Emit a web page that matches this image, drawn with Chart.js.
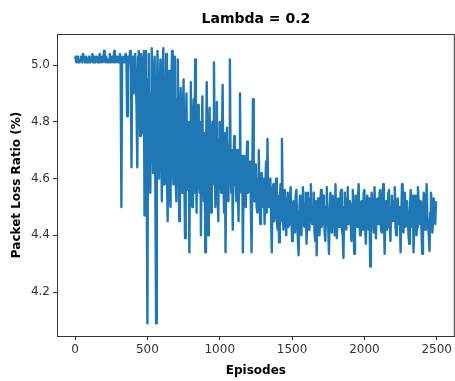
<!DOCTYPE html>
<html>
<head>
<meta charset="utf-8">
<script src="https://cdn.jsdelivr.net/npm/chart.js@4"></script>
<style>
  body { margin: 0; background: #fff; }
  canvas { display: block; }
</style>
</head>
<body>
<canvas id="lossChart" width="455" height="381"></canvas>
<script>
// Data, one value every 5 episodes
const EPISODE_STEP = 5;
// episodes 0-315
const flatStart = [5.03, 5.02, 5.01, 5.03, 5.02, 5.01, 5.01, 5.02, 5.03, 5.02, 5.01, 5.04, 5.04, 5.02, 5.01, 5.03, 5.02, 5.01, 5.01, 5.03,
    5.03, 5.01, 5.01, 5.02, 5.04, 5.01, 5.02, 5.03, 5.01, 5.02, 5.03, 5.01, 5.01, 5.02, 5.04, 5.01, 5.02, 5.03, 5.01, 5.02,
    5.05, 5.02, 5.01, 5.03, 5.03, 5.01, 5.01, 5.02, 5.04, 5.01, 5.02, 5.03, 5.01, 5.02, 5.05, 5.01, 5.01, 5.03, 5.03, 5.01,
    5.01, 5.02, 5.04, 5.02];
// episodes 320-475
const firstDrops = [4.50, 5.02, 5.03, 5.01, 5.01, 5.03, 5.04, 5.02, 4.82, 5.03,
    5.02, 5.01, 5.05, 4.98, 4.64, 5.02, 5.03, 4.90, 4.95, 5.04,
    5.04, 4.85, 4.64, 5.03, 5.05, 4.88, 4.75, 5.04, 5.02, 4.80,
    4.76, 5.05];
// episodes 480-705
const denseBand = [4.47, 4.85, 5.05, 4.60, 4.09, 4.95, 5.04, 4.70, 4.55, 4.90,
    5.06, 4.75, 4.62, 4.98, 5.03, 4.55, 4.09, 4.88, 5.05, 4.66,
    4.60, 4.92, 5.02, 4.72, 4.52, 4.96, 5.06, 4.58, 4.65, 4.85,
    5.04, 4.62, 4.45, 4.80, 4.98, 4.55, 4.50, 4.92, 5.05, 4.68,
    4.58, 4.90, 5.03, 4.60, 4.52, 4.88];
// episodes 710-1105
const slowDecline = [5.02, 4.70, 4.45, 4.78, 4.92, 4.60, 4.55, 4.82, 4.95, 4.62,
    4.39, 4.75, 4.90, 4.58, 4.56, 4.80, 4.34, 4.70, 4.94, 4.60,
    4.50, 4.82, 4.88, 4.55, 5.02, 4.70, 4.48, 4.78, 4.86, 4.60,
    4.55, 4.80, 4.40, 4.72, 4.89, 4.58, 4.52, 4.76, 4.34, 4.65,
    4.94, 4.62, 4.40, 4.75, 4.85, 4.55, 4.48, 4.78, 4.80, 4.58,
    5.01, 4.68, 4.50, 4.76, 4.87, 4.56, 4.45, 4.74, 4.80, 4.60,
    4.55, 4.72, 4.93, 4.60, 4.48, 4.76, 4.34, 4.62, 4.78, 4.58,
    4.52, 4.72, 5.02, 4.65, 4.55, 4.70, 4.42, 4.66, 4.75, 4.58];
// episodes 1110-1435
const transition = [4.60, 4.52, 4.70, 4.58, 4.45, 4.66, 4.90, 4.56, 4.55, 4.68,
    4.34, 4.62, 4.68, 4.54, 4.50, 4.66, 4.73, 4.55, 4.56, 4.64,
    4.66, 4.50, 4.34, 4.62, 4.88, 4.55, 4.52, 4.63, 4.65, 4.50,
    4.48, 4.60, 4.70, 4.52, 4.44, 4.58, 4.62, 4.50, 4.55, 4.60,
    4.44, 4.56, 4.66, 4.48, 4.74, 4.52, 4.50, 4.58, 4.60, 4.46,
    4.34, 4.55, 4.58, 4.45, 4.47, 4.56, 4.60, 4.44, 4.42, 4.54,
    4.375, 4.52, 4.58, 4.45, 4.74, 4.50];
// episodes 1440-2495
const settled = [4.42, 4.50, 4.56, 4.46, 4.40, 4.53, 4.55, 4.43, 4.44, 4.52,
    4.57, 4.47, 4.38, 4.50, 4.52, 4.42, 4.41, 4.54, 4.56, 4.45,
    4.45, 4.33, 4.48, 4.54, 4.44, 4.40, 4.52, 4.57, 4.46, 4.43,
    4.51, 4.55, 4.37, 4.47, 4.55, 4.42, 4.42, 4.53, 4.58, 4.45,
    4.44, 4.50, 4.55, 4.41, 4.38, 4.52, 4.33, 4.47, 4.53, 4.44,
    4.40, 4.51, 4.56, 4.43, 4.45, 4.54, 4.52, 4.41, 4.38, 4.50,
    4.57, 4.46, 4.43, 4.335, 4.49, 4.55, 4.44, 4.41, 4.54, 4.52,
    4.46, 4.40, 4.58, 4.45, 4.39, 4.52, 4.53, 4.43, 4.44, 4.55,
    4.56, 4.42, 4.40, 4.32, 4.50, 4.55, 4.45, 4.42, 4.53, 4.57,
    4.44, 4.45, 4.52, 4.46, 4.38, 4.51, 4.56, 4.43, 4.335, 4.50,
    4.54, 4.45, 4.43, 4.52, 4.58, 4.46, 4.40, 4.50, 4.52, 4.42,
    4.46, 4.55, 4.56, 4.43, 4.37, 4.49, 4.54, 4.44, 4.42, 4.53,
    4.29, 4.45, 4.55, 4.50, 4.44, 4.41, 4.57, 4.48, 4.39, 4.52,
    4.53, 4.44, 4.45, 4.55, 4.56, 4.42, 4.41, 4.51, 4.58, 4.46,
    4.335, 4.47, 4.52, 4.42, 4.43, 4.55, 4.56, 4.44, 4.38, 4.50,
    4.54, 4.45, 4.45, 4.52, 4.57, 4.43, 4.40, 4.51, 4.53, 4.46,
    4.44, 4.50, 4.34, 4.47, 4.58, 4.45, 4.41, 4.53, 4.55, 4.43,
    4.46, 4.52, 4.52, 4.40, 4.37, 4.49, 4.56, 4.45, 4.43, 4.54,
    4.34, 4.46, 4.54, 4.50, 4.40, 4.43, 4.57, 4.52, 4.45, 4.44,
    4.52, 4.41, 4.335, 4.48, 4.55, 4.53, 4.42, 4.45, 4.58, 4.47,
    4.44, 4.40, 4.345, 4.48, 4.55, 4.52, 4.41, 4.46, 4.53, 4.50,
    4.44, 4.52];
const xTickValues = [0, 500, 1000, 1500, 2000, 2500];
const yTickValues = [4.2, 4.4, 4.6, 4.8, 5.0];

const TITLE = 'Lambda = 0.2';
const LINE_COLOR = '#1f77b4';
const FONT = 'DejaVu Sans';

const lossValues = [].concat(flatStart, firstDrops, denseBand, slowDecline, transition, settled);
const points = lossValues.map((v, i) => ({ x: i * EPISODE_STEP, y: v }));

// Title centred over the axes + top spine (matplotlib style frame)
const framePlugin = {
    id: 'frame',
    afterDraw(chart) {
        const { ctx, chartArea } = chart;
        ctx.save();
        ctx.strokeStyle = '#333';
        ctx.lineWidth = 1;
        ctx.beginPath();
        ctx.moveTo(chartArea.left, chartArea.top + 0.5);
        ctx.lineTo(chartArea.right, chartArea.top + 0.5);
        ctx.moveTo(chartArea.right - 0.5, chartArea.top);
        ctx.lineTo(chartArea.right - 0.5, chartArea.bottom);
        ctx.stroke();
        ctx.fillStyle = '#000';
        ctx.font = `bold 14px "${FONT}"`;
        ctx.textAlign = 'center';
        ctx.textBaseline = 'middle';
        ctx.fillText(TITLE, (chartArea.left + chartArea.right) / 2, 19);
        ctx.restore();
    }
};

const tickStyle = { color: '#333', font: { family: FONT, size: 12 } };

new Chart(document.getElementById('lossChart'), {
    type: 'line',
    data: {
        datasets: [{
            data: points,
            borderColor: LINE_COLOR,
            borderWidth: 2.4,
            borderJoinStyle: 'round',
            pointRadius: 0,
            tension: 0,
            fill: false
        }]
    },
    options: {
        responsive: false,
        animation: false,
        parsing: false,
        normalized: true,
        layout: { padding: { top: 34, right: 0, left: 0, bottom: 0 } },
        plugins: {
            legend: { display: false },
            tooltip: { enabled: false },
            title: { display: false }
        },
        scales: {
            x: {
                type: 'linear',
                min: -125,
                max: 2625,
                afterBuildTicks: s => { s.ticks = xTickValues.map(v => ({ value: v })); },
                afterFit: s => { s.height = 45; },
                ticks: { ...tickStyle, padding: 3, maxRotation: 0, callback: v => String(v) },
                grid: { drawOnChartArea: false, drawTicks: true, tickLength: 4, color: '#333' },
                border: { display: true, color: '#333', width: 1 },
                title: {
                    display: true,
                    text: 'Episodes',
                    color: '#000',
                    font: { family: FONT, size: 12, weight: 'bold' },
                    padding: { top: 0, bottom: 3 }
                }
            },
            y: {
                type: 'linear',
                min: 4.045,
                max: 5.11,
                afterBuildTicks: s => { s.ticks = yTickValues.map(v => ({ value: v })); },
                afterFit: s => { s.width = 57; },
                ticks: { ...tickStyle, padding: 3, callback: v => v.toFixed(1) },
                grid: { drawOnChartArea: false, drawTicks: true, tickLength: 4, color: '#333' },
                border: { display: true, color: '#333', width: 1 },
                title: {
                    display: true,
                    text: 'Packet Loss Ratio (%)',
                    color: '#000',
                    font: { family: FONT, size: 12, weight: 'bold' },
                    padding: { top: 10, bottom: 0 }
                }
            }
        }
    },
    plugins: [framePlugin]
});
</script>
</body>
</html>
